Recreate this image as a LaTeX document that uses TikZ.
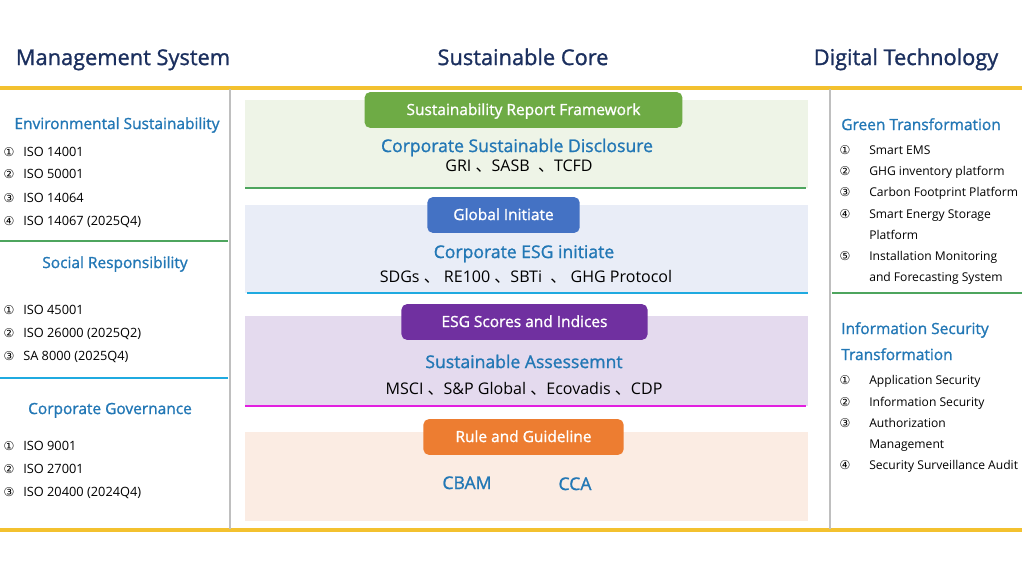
\documentclass[tikz,border=0pt]{standalone}
\usepackage{fontspec}
\setmainfont{Open Sans}
\newfontfamily\semib{Open Sans}[FakeBold=1.2]
\newfontfamily\circfont{DejaVu Sans}
\newfontfamily\cjk{Noto Sans CJK SC}
\definecolor{navy}{HTML}{1B2F5E}
\definecolor{headblue}{HTML}{2277B5}
\definecolor{gold}{HTML}{F3C12F}
\definecolor{sepgray}{HTML}{BFBFBF}
\definecolor{lgreen}{HTML}{4EA55E}
\definecolor{lcyan}{HTML}{1FAAE0}
\definecolor{lmagenta}{HTML}{E21FE0}
\definecolor{boxgreen}{HTML}{6EAB45}
\definecolor{boxblue}{HTML}{4472C4}
\definecolor{boxpurple}{HTML}{7030A0}
\definecolor{boxorange}{HTML}{ED7D31}
\definecolor{fillgreen}{HTML}{EEF4E7}
\definecolor{fillblue}{HTML}{E9EDF7}
\definecolor{fillpurple}{HTML}{E4DAEE}
\definecolor{fillorange}{HTML}{FBECE3}
\newcommand{\sep}{{\cjk 、}}
\begin{document}
\begin{tikzpicture}[x=0.025cm,y=-0.025cm,
  every node/.style={text height=0.72em,text depth=0pt},
  title/.style={text=navy,font=\semib\fontsize{15.5}{18}\selectfont},
  head/.style={text=headblue,font=\semib\fontsize{11}{13}\selectfont},
  item/.style={anchor=west,inner sep=0pt,font=\fontsize{9.1}{11}\selectfont},
  ritem/.style={item,font=\fontsize{8.6}{10}\selectfont},
  num/.style={inner sep=0pt,font=\circfont\fontsize{8.6}{10}\selectfont},
  tag/.style={rounded corners=4pt,text=white,minimum height=25.5pt,font=\semib\fontsize{11}{13}\selectfont},
  core/.style={text=headblue,font=\semib\fontsize{12.5}{15}\selectfont},
  list/.style={font=\fontsize{11.4}{13}\selectfont}]
\useasboundingbox (0,0) rectangle (1024,576);

% headings
\node[title] (ms) at (123,60) {Management System};
\node[title] (sc) at (523,60) {Sustainable Core};
\node[title] (dt) at (906,60) {Digital Technology};

% panels of the core
\fill[fillgreen] (245,100) rectangle (808,188);
\fill[fillblue] (245,205) rectangle (808,293);
\fill[fillpurple] (245,316) rectangle (808,406);
\fill[fillorange] (245,432) rectangle (808,521);
\draw[lgreen,line width=2pt] (245,188) -- (806,188);
\draw[lcyan,line width=2pt] (247,293) -- (808,293);
\draw[lmagenta,line width=2pt] (245,406) -- (806,406);

% frame
\draw[gold,line width=2.2pt] (0,88) -- (1022,88);
\draw[gold,line width=2.2pt] (0,530) -- (1022,530);
\draw[sepgray,line width=2pt] (230,89) -- (230,529);
\draw[sepgray,line width=2pt] (830,89) -- (830,529);
\draw[lgreen,line width=2pt] (0,241) -- (228,241); %env-soc
\draw[lcyan,line width=2pt] (0,378) -- (228,378); %soc-gov
\draw[lgreen,line width=2pt] (832,293) -- (1022,293); %green-info

% management system
\node[head] (env) at (117,124) {Environmental Sustainability};
\node[num] (env1n) at (9,151) {①}; \node[item] (env1) at (23,151) {ISO 14001};
\node[num] (env2n) at (9,173) {②}; \node[item] (env2) at (23,173) {ISO 50001};
\node[num] (env3n) at (9,197) {③}; \node[item] (env3) at (23,197) {ISO 14064};
\node[num] (env4n) at (9,220) {④}; \node[item] (env4) at (23,220) {ISO 14067 (2025Q4)};
\node[head] (soc) at (115,263) {Social Responsibility};
\node[num] (soc1n) at (9,309) {①}; \node[item] (soc1) at (23,309) {ISO 45001};
\node[num] (soc2n) at (9,332) {②}; \node[item] (soc2) at (23,332) {ISO 26000 (2025Q2)};
\node[num] (soc3n) at (9,355) {③}; \node[item] (soc3) at (23,355) {SA 8000 (2025Q4)};
\node[head] (gov) at (110,409) {Corporate Governance};
\node[num] (gov1n) at (9,445) {①}; \node[item] (gov1) at (23,445) {ISO 9001};
\node[num] (gov2n) at (9,468) {②}; \node[item] (gov2) at (23,468) {ISO 27001};
\node[num] (gov3n) at (9,491) {③}; \node[item] (gov3) at (23,491) {ISO 20400 (2024Q4)};

% sustainable core
\node[tag,fill=boxgreen,minimum width=319*0.7087pt] (srf) at (523.5,110) {Sustainability Report Framework};
\node[core] (csd) at (517,147) {Corporate Sustainable Disclosure};
\node[list] (csdl) at (519,166) {GRI \sep SASB \ \sep TCFD};
\node[tag,fill=boxblue,minimum width=153*0.7087pt] (gi) at (503.5,215) {Global Initiate};
\node[core] (cei) at (524,253) {Corporate ESG initiate};
\node[list] (ceil) at (526,277) {SDGs \sep\ RE100 \sep SBTi \ \sep\ GHG Protocol};
\node[tag,fill=boxpurple,minimum width=247*0.7087pt] (esg) at (524.5,322) {ESG Scores and Indices};
\node[core] (sa) at (524,363) {Sustainable Assessemnt};
\node[list] (sal) at (524,389) {MSCI \sep S\&P Global \sep Ecovadis \sep CDP};
\node[tag,fill=boxorange,minimum width=201*0.7087pt] (rg) at (523.5,437) {Rule and Guideline};
\node[core] (cbam) at (467,484) {CBAM};
\node[core] (cca) at (575,485) {CCA};

% digital technology
\node[head,anchor=west,inner sep=0pt] (gt) at (841,125) {Green Transformation};
\node[num] (gt1n) at (845,149) {①}; \node[ritem] (gt1) at (869,149) {Smart EMS};
\node[num] (gt2n) at (845,170) {②}; \node[ritem] (gt2) at (869,170) {GHG inventory platform};
\node[num] (gt3n) at (845,191) {③}; \node[ritem] (gt3) at (869,191) {Carbon Footprint Platform};
\node[num] (gt4n) at (845,213) {④}; \node[ritem] (gt4) at (869,213) {Smart Energy Storage};
\node[ritem] (gt4b) at (869,234) {Platform};
\node[num] (gt5n) at (845,255) {⑤}; \node[ritem] (gt5) at (869,255) {Installation Monitoring};
\node[ritem] (gt5b) at (869,276) {and Forecasting System};
\node[head,anchor=west,inner sep=0pt] (ist) at (841,329) {Information Security};
\node[head,anchor=west,inner sep=0pt] (istb) at (841,355) {Transformation};
\node[num] (is1n) at (845,379) {①}; \node[ritem] (is1) at (869,379) {Application Security};
\node[num] (is2n) at (845,401) {②}; \node[ritem] (is2) at (869,401) {Information Security};
\node[num] (is3n) at (845,422) {③}; \node[ritem] (is3) at (869,422) {Authorization};
\node[ritem] (is3b) at (869,443) {Management};
\node[num] (is4n) at (845,464) {④}; \node[ritem] (is4) at (869,464) {Security Surveillance Audit};
\end{tikzpicture}
\end{document}
